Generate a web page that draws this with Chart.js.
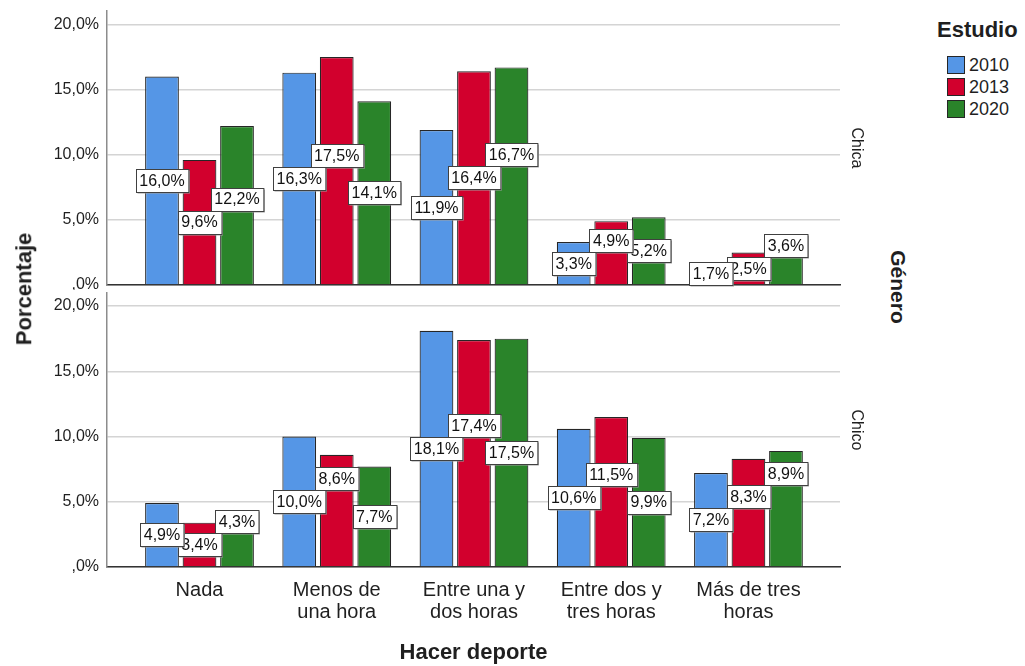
<!DOCTYPE html>
<html>
<head>
<meta charset="utf-8">
<script src="https://cdn.jsdelivr.net/npm/chart.js@4.4.0/dist/chart.umd.min.js"></script>
<style>
    html, body { margin: 0; padding: 0; background: #fff; }
    #wrap { position: relative; width: 1025px; height: 666px; overflow: hidden;
            font-family: "Liberation Sans", Arial, sans-serif; color: #1f1f1f; }
    canvas { position: absolute; left: 0; }
    #chartTop { top: 0; }
    #chartBottom { top: 288px; }
    .vtitle { position: absolute; font-weight: bold; white-space: nowrap; transform-origin: center center; }
    .legend-title { position: absolute; left: 937px; top: 17px; font-size: 22px; font-weight: bold; line-height: 26px; }
    .legend-item { position: absolute; left: 947px; height: 20px; font-size: 18px; line-height: 20px; }
    .legend-item span.sw { position: absolute; left: 0; top: 1px; width: 16px; height: 16px; border: 1px solid #262626; }
    .legend-item span.tx { position: absolute; left: 22px; top: 0; }
</style>
</head>
<body>
<div id="wrap">
    <canvas id="chartTop" width="880" height="290"></canvas>
    <canvas id="chartBottom" width="880" height="378"></canvas>
    <div class="vtitle" id="yTitle" style="font-size:22px;">Porcentaje</div>
    <div class="vtitle" id="panelTitle" style="font-size:21px;">Género</div>
    <div id="legend"></div>
</div>
<script>
// categories (multi-line tick labels)
const categories = [
    ['Nada'],
    ['Menos de', 'una hora'],
    ['Entre una y', 'dos horas'],
    ['Entre dos y', 'tres horas'],
    ['Más de tres', 'horas']
];
const years = ['2010', '2013', '2020'];
const colors = ['#5596e6', '#d2002d', '#2a842a'];

// Chica (top panel)
const chica2010 = [16.0, 16.3, 11.9, 3.3, 1.7];
const chica2013 = [9.6, 17.5, 16.4, 4.9, 2.5];
const chica2020 = [12.2, 14.1, 16.7, 5.2, 3.6];

// Chico (bottom panel)
const chico2010 = [4.9, 10.0, 18.1, 10.6, 7.2];
const chico2013 = [3.4, 8.6, 17.4, 11.5, 8.3];
const chico2020 = [4.3, 7.7, 17.5, 9.9, 8.9];

const yTicks = [0, 5, 10, 15, 20];

const textColor = '#1f1f1f';
Chart.defaults.font.family = '"Liberation Sans", Arial, sans-serif';

function fmtPct(v) {
    if (v === 0) return ',0%';
    return v.toFixed(1).replace('.', ',') + '%';
}

// boxed value labels, roughly the way SPSS stacks them
const boxLabels = {
    id: 'boxLabels',
    afterDatasetsDraw(chart) {
        const ctx = chart.ctx;
        const h = 23;
        ctx.save();
        ctx.font = '16px "Liberation Sans", Arial, sans-serif';
        const sets = chart.data.datasets;
        const all = [];
        for (let i = 0; i < categories.length; i++) {
            const placed = [];
            sets.forEach((ds, k) => {
                const bar = chart.getDatasetMeta(k).data[i];
                const text = fmtPct(ds.data[i].y);
                const w = ctx.measureText(text).width + 7;
                const mid = (bar.y + bar.base) / 2;
                let cy = mid;
                placed.forEach(p => {
                    const hx = Math.abs(p.cx - bar.x) < (p.w + w) / 2;
                    const vy = Math.abs(p.cy - cy) < h;
                    if (hx && vy) cy = p.cy - h;
                });
                if (cy < bar.y) cy = mid;
                const box = { cx: bar.x, cy, w, text };
                placed.push(box);
                all.push(box);
            });
        }
        // later series are drawn underneath earlier ones
        for (let j = all.length - 1; j >= 0; j--) {
            const b = all[j];
            const x = Math.round(b.cx - b.w / 2) + 0.5;
            const y = Math.round(b.cy - h / 2) + 0.5;
            ctx.fillStyle = '#a0a0a0';
            ctx.fillRect(x + 1, y + 1, b.w, h);
            ctx.fillStyle = '#ffffff';
            ctx.fillRect(x, y, b.w, h);
            ctx.strokeStyle = '#404040';
            ctx.lineWidth = 1;
            ctx.strokeRect(x, y, b.w, h);
            ctx.fillStyle = '#111';
            ctx.textAlign = 'center';
            ctx.textBaseline = 'middle';
            ctx.fillText(b.text, b.cx, b.cy + 1);
        }
        ctx.restore();
    }
};

function noPadding(axis) {
    axis.paddingTop = 0;
    axis.paddingBottom = 0;
    axis.paddingLeft = 0;
    axis.paddingRight = 0;
}

function makePanel(canvasId, panelName, series, showX, padTop, xHeight, yMax) {
    const ctx = document.getElementById(canvasId).getContext('2d');
    return new Chart(ctx, {
        type: 'bar',
        data: {
            datasets: years.map((yr, k) => ({
                label: yr,
                data: series[k].map((v, i) => ({ x: i, y: v })),
                backgroundColor: colors[k],
                borderColor: '#262626',
                borderWidth: 1.2,
                categoryPercentage: 0.82,
                barPercentage: 0.9,
                yAxisID: 'y'
            }))
        },
        options: {
            responsive: false,
            animation: false,
            layout: { padding: { top: padTop, left: 0, right: 0, bottom: 0 } },
            plugins: {
                legend: { display: false },
                tooltip: { enabled: false }
            },
            scales: {
                x: {
                    type: 'linear',
                    min: -0.674,
                    max: 4.667,
                    offset: false,
                    afterBuildTicks: axis => {
                        axis.ticks = categories.map((c, i) => ({ value: i }));
                    },
                    afterFit: axis => { axis.height = xHeight; noPadding(axis); },
                    grid: { display: false, drawTicks: false },
                    border: { display: true, color: '#333', width: 1.5 },
                    ticks: {
                        display: showX,
                        autoSkip: false,
                        maxRotation: 0,
                        padding: 12,
                        color: textColor,
                        font: { size: 20, lineHeight: 1.1 },
                        callback: v => categories[v]
                    },
                    title: {
                        display: showX,
                        text: 'Hacer deporte',
                        color: textColor,
                        font: { size: 22, weight: 'bold' },
                        padding: { top: 0, bottom: 0 }
                    }
                },
                y: {
                    position: 'left',
                    min: 0,
                    max: yMax,
                    afterBuildTicks: axis => {
                        axis.ticks = yTicks.map(v => ({ value: v }));
                    },
                    afterFit: axis => { axis.width = 107; noPadding(axis); },
                    grid: { color: '#d4d4d4', lineWidth: 1.5, drawTicks: false },
                    border: { color: '#8c8c8c', width: 1.5 },
                    ticks: {
                        padding: 8,
                        color: textColor,
                        font: { size: 16 },
                        callback: v => fmtPct(v)
                    }
                },
                yr: {
                    position: 'right',
                    display: true,
                    afterFit: axis => { axis.width = 40; noPadding(axis); },
                    grid: { display: false, drawOnChartArea: false, drawTicks: false },
                    border: { display: false },
                    ticks: { display: false },
                    title: {
                        display: true,
                        text: panelName,
                        color: textColor,
                        font: { size: 16 },
                        padding: { top: 14, bottom: 0 }
                    }
                }
            }
        },
        plugins: [boxLabels]
    });
}

function buildLegend() {
    const box = document.getElementById('legend');
    const title = document.createElement('div');
    title.className = 'legend-title';
    title.textContent = 'Estudio';
    box.appendChild(title);
    years.forEach((yr, k) => {
        const item = document.createElement('div');
        item.className = 'legend-item';
        item.style.top = (55 + k * 22) + 'px';
        item.innerHTML = `<span class="sw" style="background:${colors[k]}"></span><span class="tx">${yr}</span>`;
        box.appendChild(item);
    });
}

function placeRotated(id, cx, cy, deg) {
    const el = document.getElementById(id);
    const w = el.offsetWidth, h = el.offsetHeight;
    el.style.left = (cx - w / 2) + 'px';
    el.style.top = (cy - h / 2) + 'px';
    el.style.transform = `rotate(${deg}deg)`;
}

makePanel('chartTop', 'Chica', [chica2010, chica2013, chica2020], false, 11, 5, 21.03);
makePanel('chartBottom', 'Chico', [chico2010, chico2013, chico2020], true, 5, 99, 21.0);
buildLegend();
placeRotated('yTitle', 24, 289, -90);
placeRotated('panelTitle', 898, 287, 90);
</script>
</body>
</html>
